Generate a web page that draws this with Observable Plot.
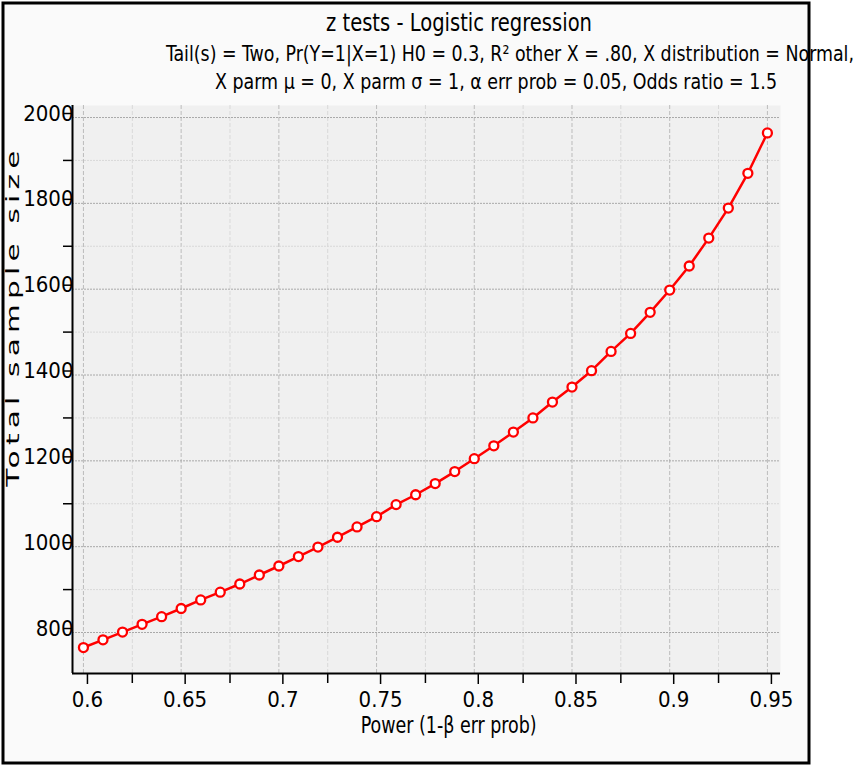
<!DOCTYPE html>
<html>
<head>
<meta charset="utf-8">
<script src="https://cdn.jsdelivr.net/npm/d3@7"></script>
<script src="https://cdn.jsdelivr.net/npm/@observablehq/plot@0.6"></script>
<style>
  html, body { margin: 0; padding: 0; background: #ffffff; }
  #chart { width: 859px; height: 767px; }
</style>
</head>
<body>
<div id="chart"></div>
<script>
// ---- data ----
const power = [0.60, 0.61, 0.62, 0.63, 0.64, 0.65, 0.66, 0.67, 0.68, 0.69,
               0.70, 0.71, 0.72, 0.73, 0.74, 0.75, 0.76, 0.77, 0.78, 0.79,
               0.80, 0.81, 0.82, 0.83, 0.84, 0.85, 0.86, 0.87, 0.88, 0.89,
               0.90, 0.91, 0.92, 0.93, 0.94, 0.95];
const sampleSize = [765, 783, 801, 819, 837, 856, 876, 894, 913, 934,
                    955, 977, 999, 1022, 1046, 1070, 1098, 1121, 1147, 1175,
                    1205, 1235, 1267, 1300, 1337, 1372, 1410, 1455, 1497, 1546,
                    1598, 1654, 1719, 1789, 1870, 1964];
const xMajorTicks = [0.6, 0.65, 0.7, 0.75, 0.8, 0.85, 0.9, 0.95];
const xMinorTicks = [0.625, 0.675, 0.725, 0.775, 0.825, 0.875, 0.925];
const yMajorTicks = [800, 1000, 1200, 1400, 1600, 1800, 2000];
const yMinorTicks = [900, 1100, 1300, 1500, 1700, 1900];
const xDomain = [0.5944, 0.9567];
const yDomain = [704.5, 2028];

const titleText = "z tests - Logistic regression";
const subtitle1 = "Tail(s) = Two, Pr(Y=1|X=1) H0 = 0.3, R² other X = .80, X distribution = Normal,";
const subtitle2 = "X parm μ = 0, X parm σ = 1, α err prob = 0.05, Odds ratio = 1.5";
const xLabel = "Power (1-β err prob)";
const yLabel = "Total sample size";

const data = power.map((p, i) => ({power: p, n: sampleSize[i]}));

const narrow = "'Liberation Sans Narrow', 'DejaVu Sans Condensed', 'Roboto Condensed', sans-serif";

const chart = Plot.plot({
  width: 859,
  height: 767,
  marginLeft: 72,
  marginRight: 79,
  marginTop: 105,
  marginBottom: 94,
  style: {background: "transparent", fontFamily: narrow, color: "#000"},
  x: {domain: xDomain},
  y: {domain: yDomain},
  marks: [
    Plot.frame({fill: "#f0f0f0", stroke: "none"}),
    Plot.gridX(xMinorTicks, {stroke: "#d9d9d9", strokeOpacity: 1, strokeDasharray: "4,2"}),
    Plot.gridX(xMajorTicks, {stroke: "#bcbcbc", strokeOpacity: 1, strokeDasharray: "4,2"}),
    Plot.gridY(yMinorTicks, {stroke: "#d9d9d9", strokeOpacity: 1, strokeDasharray: "2,1"}),
    Plot.gridY(yMajorTicks, {stroke: "#a9a9a9", strokeOpacity: 1, strokeDasharray: "2,1"}),
    Plot.axisX(xMajorTicks, {tickSize: 11, tickPadding: 7, fontSize: 22, dx: 4, label: null,
                             tickFormat: d => String(d), strokeWidth: 1.5}),
    Plot.axisX(xMinorTicks, {tickSize: 10, fill: "none", label: null, strokeWidth: 1.5}),
    Plot.axisY(yMajorTicks, {tickSize: 9, tickPadding: -10, fontSize: 22, dy: -4, label: null,
                             tickFormat: d => String(d), strokeWidth: 1.5}),
    Plot.axisY(yMinorTicks, {tickSize: 9, fill: "none", label: null, strokeWidth: 1.5}),
    Plot.ruleY([yDomain[0]], {stroke: "#000", strokeWidth: 2}),
    Plot.ruleX([xDomain[0]], {stroke: "#000", strokeWidth: 2}),
    Plot.line(data, {x: "power", y: "n", stroke: "#ff0000", strokeWidth: 2.5}),
    Plot.dot(data, {x: "power", y: "n", r: 4.5, fill: "#ffffff", stroke: "#ff0000", strokeWidth: 2.3})
  ]
});

const svg = d3.select(chart);
// outer border panel (behind everything)
svg.insert("rect", ":first-child")
  .attr("x", 3).attr("y", 3).attr("width", 806).attr("height", 760)
  .attr("fill", "#fafafa").attr("stroke", "#000").attr("stroke-width", 3);

function addText(str, x, y, size, len) {
  return svg.append("text")
    .attr("x", x).attr("y", y)
    .attr("text-anchor", "middle")
    .attr("font-family", narrow)
    .attr("font-size", size)
    .attr("fill", "#000")
    .attr("textLength", len)
    .attr("lengthAdjust", "spacingAndGlyphs")
    .text(str);
}
addText(titleText, 459, 31, 25, 266);
addText(subtitle1, 510, 61, 22, 688);
addText(subtitle2, 496, 89, 22, 562);
addText(xLabel, 448.7, 733, 23, 176);

// rotated, horizontally stretched y-axis title
svg.append("text")
  .attr("transform", "translate(19,316) rotate(-90) scale(1.74,1)")
  .attr("text-anchor", "middle")
  .attr("font-family", "'DejaVu Sans', sans-serif")
  .attr("font-size", 17)
  .attr("letter-spacing", 3)
  .attr("fill", "#000")
  .text(yLabel);

document.getElementById("chart").appendChild(chart);
</script>
</body>
</html>
